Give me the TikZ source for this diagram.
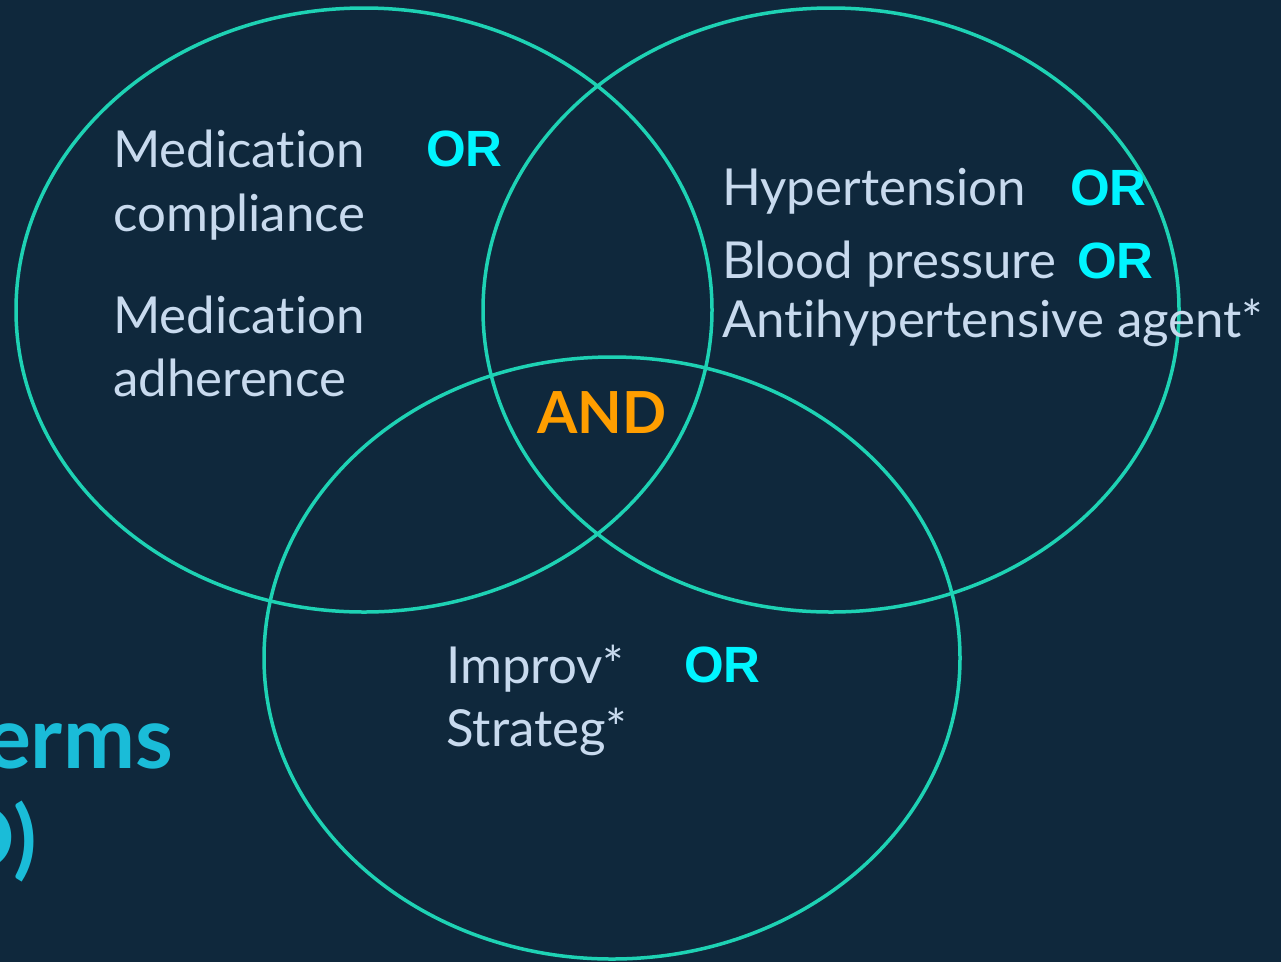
\documentclass[tikz,border=0pt]{standalone}
\usepackage{fontspec}
\setmainfont{Lato}[Ligatures={NoCommon}]
\newfontfamily\orfont{Liberation Sans}
\definecolor{bgnavy}{HTML}{0F283C}
\definecolor{vennteal}{HTML}{1ED2B4}
\definecolor{termgrey}{HTML}{C8DAEE}
\definecolor{orcyan}{HTML}{00F5FF}
\definecolor{andorange}{HTML}{FF9E00}
\definecolor{headblue}{HTML}{1ABCD8}
\tikzset{
  venn/.style={draw=vennteal, line width=3.5pt},
  termlbl/.style={anchor=base west, inner sep=0pt, text=termgrey, font=\fontsize{51}{60}\selectfont},
  orlbl/.style={anchor=base west, inner sep=0pt, text=orcyan, font=\orfont\bfseries\fontsize{51}{60}\selectfont},
  andlbl/.style={anchor=base west, inner sep=0pt, text=andorange, font=\bfseries\fontsize{58}{60}\selectfont},
  headlbl/.style={anchor=base east, inner sep=0pt, text=headblue, font=\bfseries\fontsize{86}{90}\selectfont}
}
\begin{document}
\begin{tikzpicture}[x=1pt, y=-1pt]
    % Background and page size
    \fill[bgnavy] (0,0) rectangle (1281,962);
    \useasboundingbox (0,0) rectangle (1281,962);
    \clip (0,0) rectangle (1281,962);

    % Draw the three circles of the Venn diagram
    \draw[venn] (364,310) ellipse [x radius=348, y radius=302];
    \draw[venn] (831,310) ellipse [x radius=348, y radius=302];
    \draw[venn] (612,658) ellipse [x radius=348, y radius=301];

    % Heading cut off at the left edge
    \node[headlbl] (head1) at (173,768) {terms};
    \node[headlbl] (head2) at (37,868) {O)};

    % Terms of the left circle
    \node[termlbl] (med1) at (113,167) {Medication};
    \node[termlbl] (comp) at (113,231) {compliance};
    \node[termlbl] (med2) at (113,333) {Medication};
    \node[termlbl] (adh) at (113,396) {adherence};
    \node[orlbl] (or1) at (426,166) {OR};

    % Terms of the right circle
    \node[termlbl] (hyp) at (722,205) {Hypertension};
    \node[termlbl] (bp) at (722,278) {Blood pressure};
    \node[termlbl] (anti) at (722,337) {Antihypertensive agent*};
    \node[orlbl] (or2) at (1070,205) {OR};
    \node[orlbl] (or3) at (1077,278) {OR};

    % Terms of the bottom circle
    \node[termlbl] (impr) at (446,683) {Improv*};
    \node[termlbl] (strat) at (446,746) {Strateg*};
    \node[orlbl] (or4) at (684,682) {OR};

    % Label the overlap
    \node[andlbl] (and) at (537,433) {AND};
\end{tikzpicture}
\end{document}
